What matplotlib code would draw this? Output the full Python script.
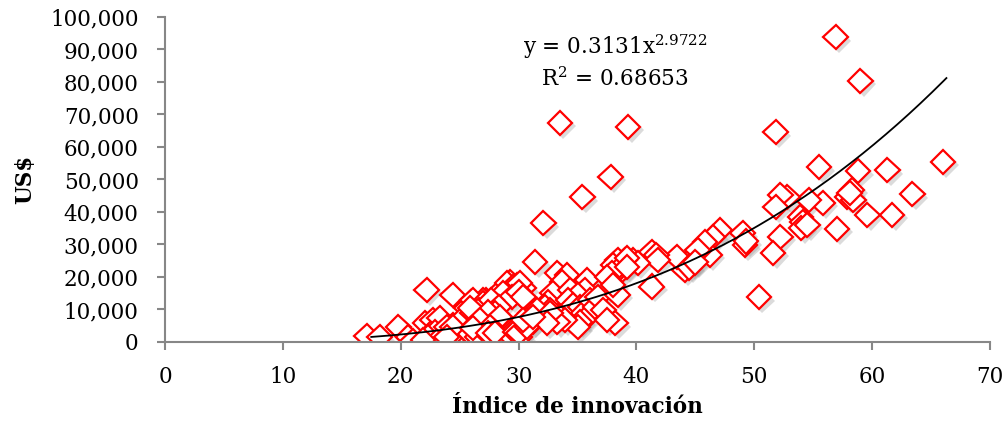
import matplotlib
matplotlib.use("Agg")
import matplotlib.pyplot as plt
import matplotlib.patheffects as pe
import numpy as np
from matplotlib.ticker import FuncFormatter

plt.rcParams['font.family'] = ['DejaVu Serif']
plt.rcParams['mathtext.fontset'] = 'dejavuserif'

# indice de innovacion vs US$ (PIB per capita)
indice = [
    56.9, 59.0, 33.5, 39.3, 51.8, 55.5, 58.8, 61.3, 66.0, 63.4,
    59.6, 61.7, 58.3, 57.9, 58.4, 58.1, 55.8, 54.6, 52.8, 52.2,
    51.8, 53.9, 54.1, 54.0, 54.5, 57.0, 52.2, 51.6, 50.4, 49.0,
    49.2, 49.3, 47.1, 46.5, 46.2, 45.4, 45.8, 44.1, 44.3, 44.7,
    45.2, 43.4, 41.3, 41.7, 41.8, 41.3, 39.7, 40.1, 39.0, 38.8,
    37.8, 35.4, 32.1, 31.4,
    33.3, 34.1, 33.7, 35.8, 35.6, 38.4, 38.0, 38.6, 37.9, 37.5,
    39.2, 39.2, 38.2, 29.9, 29.3, 28.8, 28.4, 27.2, 30.4, 30.1,
    29.5, 32.9, 32.5, 32.2, 32.7, 34.4, 35.0, 34.2, 34.6, 35.2,
    35.5, 35.8, 35.2, 35.0, 33.5, 33.9, 33.3, 36.1, 36.5, 36.7,
    31.0, 31.6, 30.7, 31.2, 29.9, 30.1, 29.4, 27.8, 27.3, 28.4,
    27.6, 28.4, 32.7, 32.4, 37.2, 37.5, 38.4, 38.0, 44.5, 45.0,
    22.2, 24.4, 17.1, 18.2, 19.8, 20.6, 21.0, 22.1, 22.7, 23.1,
    23.3, 22.9, 22.3, 24.4, 24.8, 24.2, 26.0, 25.6, 27.0, 25.3,
    26.1, 26.5, 27.0, 27.3, 25.7, 26.5, 27.3, 23.2, 21.9, 23.9,
    24.4, 23.9, 26.1, 27.0, 26.6, 25.9, 29.0, 29.5, 30.1, 28.7,
    29.4, 30.0, 30.4, 27.7, 28.3, 28.0, 27.4, 28.4, 26.7, 27.6,
    26.1, 27.4, 28.0, 29.7, 30.0, 30.7, 30.4, 31.2,
]
usd = [
    93800, 80300, 67400, 66200, 64600, 53800, 52600, 52900, 55400, 45500,
    39100, 39100, 46800, 44600, 43700, 45800, 42800, 43700, 44600, 45200,
    41500, 38500, 36900, 35100, 36000, 34800, 32300, 27400, 13800, 33500,
    29800, 31000, 34500, 32300, 26800, 28300, 30800, 22200, 24300, 24000,
    28300, 26200, 27700, 26800, 25200, 17000, 25200, 24300, 25200, 22200,
    50800, 44600, 36600, 24600,
    21200, 20600, 18500, 19100, 16000, 25200, 23700, 22800, 21200, 20000,
    25800, 23100, 5800, 17500, 18500, 16600, 15400, 12900, 16600, 15100,
    15400, 15100, 12300, 10800, 9800, 16000, 14500, 12900, 11400, 10800,
    8900, 7700, 6200, 4600, 7700, 6800, 6200, 12900, 10800, 13800,
    8900, 9800, 6800, 6200, 2800, 1500, 1500, 9800, 8900, 6800,
    5800, 7700, 8900, 5800, 9800, 6800, 14500, 17500, 23000, 24500,
    16000, 14500, 1800, 1500, 4600, 1500, 300, 5800, 6800, 4600,
    7400, 3100, 1500, 5200, 2200, 1500, 12300, 10500, 12900, 7400,
    8900, 5800, 7700, 9800, 3100, 1500, 2800, 600, 600, 4600,
    4600, 1500, 12900, 12000, 9800, 10500, 18200, 16900, 18200, 15100,
    13800, 15400, 13800, 12900, 10800, 8900, 9200, 7700, 6800, 4600,
    4300, 2800, 2800, 3100, 2800, 4600, 6800, 7700,
]

# linea de tendencia potencial
coef_a = 0.3131
coef_b = 2.9722
r2 = 0.68653

fig = plt.figure(figsize=(10.05, 4.30), dpi=100)
ax = fig.add_axes([0.1642, 0.2047, 0.8209, 0.7558])

ax.plot(indice, usd, linestyle='none', marker='D', markersize=12.5,
        markerfacecolor='white', markeredgecolor='#ff0000', markeredgewidth=1.6,
        path_effects=[pe.SimplePatchShadow(offset=(2.5, -2.5), shadow_rgbFace='#999999', alpha=0.35),
                      pe.Normal()], zorder=2)

xt = np.linspace(17.5, 66.3, 200)
ax.plot(xt, coef_a * xt ** coef_b, color='black', linewidth=1.3, zorder=3)

ax.text(38.2, 91000, 'y = %.4fx$^{%.4f}$' % (coef_a, coef_b), ha='center', va='center', fontsize=15.5)
ax.text(38.2, 81000, 'R$^2$ = %.5f' % r2, ha='center', va='center', fontsize=15.5)

ax.set_xlim(0, 70)
ax.set_ylim(0, 100000)
ax.set_xticks(range(0, 71, 10))
ax.set_yticks(range(0, 100001, 10000))
ax.yaxis.set_major_formatter(FuncFormatter(lambda v, p: '{:,.0f}'.format(v)))

for s in ['top', 'right']:
    ax.spines[s].set_visible(False)
for s in ['left', 'bottom']:
    ax.spines[s].set_color('#878787')
    ax.spines[s].set_linewidth(1.5)
ax.tick_params(axis='both', direction='out', length=6, width=1.5, color='#878787',
               labelsize=15.5)
ax.tick_params(axis='y', pad=13)
ax.tick_params(axis='x', pad=11)

ax.set_xlabel('Índice de innovación', fontsize=15.5, fontweight='bold', labelpad=6)
ax.set_ylabel('US$', fontsize=15.5, fontweight='bold', labelpad=10)

fig.savefig('out.png', dpi=100)
